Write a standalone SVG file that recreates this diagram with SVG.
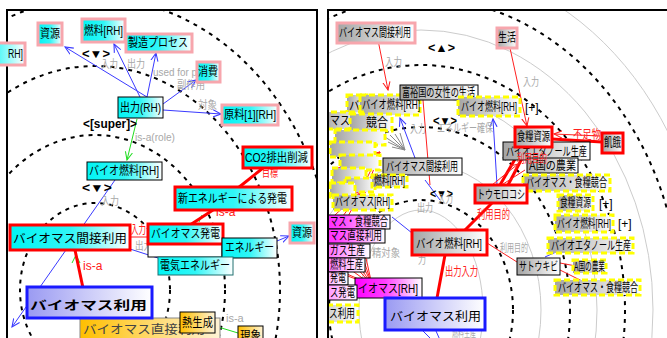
<svg xmlns="http://www.w3.org/2000/svg" width="667" height="338" viewBox="0 0 667 338">
<style>
.t{font-family:'Liberation Sans','Noto Sans CJK JP',sans-serif;font-size:12px;fill:#000}
.l{font-family:'Liberation Sans','Noto Sans CJK JP',sans-serif;font-size:11px;fill:#a8a8a8}
.rt{fill:#ff2020}
.bd{font-weight:bold}
.pc{fill:url(#gc);stroke:#f7a6ad;stroke-width:3}
.pg{fill:url(#gg);stroke:#f7a6ad;stroke-width:3}
.rc{fill:url(#gc);stroke:#ff0000;stroke-width:3}
.rg{fill:url(#gg);stroke:#ff0000;stroke-width:3}
.kc{fill:url(#gc);stroke:#000;stroke-width:1}
.kg{fill:url(#gg);stroke:#000;stroke-width:1}
.yg{fill:url(#gg);stroke:#ffff00;stroke-width:3;stroke-dasharray:6 3}
.km{fill:url(#gm);stroke:#000;stroke-width:1}
.bl{stroke:#3a3aff;stroke-width:1;fill:none}
.gl{stroke:#22dd22;stroke-width:1;fill:none}
.rl{stroke:#ff0000;stroke-width:3;fill:none}
.rn{stroke:#ff2020;stroke-width:1;fill:none}
.dk{fill:none;stroke:#000;stroke-width:2;stroke-dasharray:4 5}
.gy{fill:none;stroke:#cccccc;stroke-width:1}
.fr{fill:none;stroke:#000;stroke-width:2}
</style>
<defs>
<linearGradient id="gc" x1="0" y1="0" x2="1" y2="0"><stop offset="0" stop-color="#00f4f4"/><stop offset="0.5" stop-color="#30f6f6"/><stop offset="1" stop-color="#ffffff"/></linearGradient>
<linearGradient id="gg" x1="0" y1="0" x2="1" y2="0"><stop offset="0" stop-color="#a4a4a4"/><stop offset="1" stop-color="#ffffff"/></linearGradient>
<linearGradient id="gl" x1="0" y1="0" x2="1" y2="0"><stop offset="0" stop-color="#9a9af2"/><stop offset="1" stop-color="#ffffff"/></linearGradient>
<linearGradient id="go" x1="0" y1="0" x2="1" y2="0"><stop offset="0" stop-color="#ffbf00"/><stop offset="1" stop-color="#fff3d6"/></linearGradient>
<linearGradient id="gm" x1="0" y1="0" x2="1" y2="0"><stop offset="0" stop-color="#ff00ff"/><stop offset="0.45" stop-color="#ff40ff"/><stop offset="1" stop-color="#ffffff"/></linearGradient>
<marker id="ab" viewBox="0 0 10 10" refX="9" refY="5" markerWidth="9" markerHeight="9" orient="auto" markerUnits="userSpaceOnUse"><path d="M0,1 L9,5 L0,9" fill="none" stroke="#3a3aff" stroke-width="1.2"/></marker>
<marker id="ag" viewBox="0 0 10 10" refX="9" refY="5" markerWidth="9" markerHeight="9" orient="auto" markerUnits="userSpaceOnUse"><path d="M0,1 L9,5 L0,9" fill="none" stroke="#22dd22" stroke-width="1.2"/></marker>
<marker id="ar" viewBox="0 0 10 10" refX="9" refY="5" markerWidth="9" markerHeight="9" orient="auto" markerUnits="userSpaceOnUse"><path d="M0,1 L9,5 L0,9" fill="none" stroke="#ff2020" stroke-width="1.2"/></marker>
<clipPath id="cL"><rect x="8" y="11" width="308" height="327"/></clipPath>
<clipPath id="cR"><rect x="329" y="11" width="338" height="327"/></clipPath>
</defs>
<rect x="0" y="0" width="667" height="338" fill="#fff"/>

<!-- LEFT PANEL -->
<g id="left-rings" clip-path="url(#cL)">
<ellipse class="dk" cx="95" cy="290" rx="75" ry="87"/>
<ellipse class="dk" cx="95" cy="290" rx="130" ry="155"/>
<ellipse class="dk" cx="95" cy="290" rx="185" ry="224"/>
<ellipse class="dk" cx="95" cy="290" rx="240" ry="292"/>
</g>
<g id="left-frame"><path class="fr" d="M7,340 V10 H317 V340"/></g>

<g id="left-connectors">
<line class="bl" x1="147" y1="97" x2="65" y2="47" marker-end="url(#ab)"/>
<line class="bl" x1="140" y1="97" x2="114" y2="44" marker-end="url(#ab)"/>
<line class="bl" x1="147" y1="97" x2="156" y2="53" marker-end="url(#ab)"/>
<line class="bl" x1="163" y1="104" x2="196" y2="80" marker-end="url(#ab)"/>
<line class="bl" x1="163" y1="110" x2="221" y2="114" marker-end="url(#ab)"/>
<line class="bl" x1="115" y1="180" x2="12" y2="327" marker-end="url(#ab)"/>
<line class="bl" x1="130" y1="249" x2="158" y2="258"/>
<line class="bl" x1="277" y1="241" x2="289" y2="236" marker-end="url(#ab)"/>
<line class="gl" x1="137" y1="119" x2="127" y2="160" marker-end="url(#ag)"/>
<line class="gl" x1="215" y1="326" x2="238" y2="333"/>
<path class="gl" d="M72,263 L76,255 L80,263"/>
<path class="gl" d="M199,222 L202,215"/>
<line class="rl" x1="263" y1="168" x2="238" y2="188"/>
<line class="rl" x1="213" y1="210" x2="190" y2="225"/>
<line class="rl" x1="75" y1="250" x2="83" y2="288"/>
<line class="rn" x1="130" y1="237" x2="148" y2="237" stroke-width="2"/>
</g>

<g id="left-labels">
<text class="t bd" x="82" y="58" font-size="14" textLength="28" lengthAdjust="spacingAndGlyphs">&lt;▼&gt;</text>
<text class="l" x="101" y="68" textLength="17" lengthAdjust="spacingAndGlyphs">入力</text>
<text class="l" x="127" y="68" textLength="18" lengthAdjust="spacingAndGlyphs">出力</text>
<text class="l" x="153" y="76" textLength="44" lengthAdjust="spacingAndGlyphs">used for p</text>
<text class="l" x="177" y="89" textLength="28" lengthAdjust="spacingAndGlyphs">副作用</text>
<text class="l" x="198" y="109" textLength="19" lengthAdjust="spacingAndGlyphs">対象</text>
<text class="t bd" x="83" y="128" font-size="14" textLength="54" lengthAdjust="spacingAndGlyphs">&lt;[super]&gt;</text>
<text class="l" x="135" y="141" textLength="40" lengthAdjust="spacingAndGlyphs">is-a(role)</text>
<text class="t bd" x="82" y="192" font-size="14" textLength="30" lengthAdjust="spacingAndGlyphs">&lt;▼&gt;</text>
<text class="l" x="101" y="205" textLength="18" lengthAdjust="spacingAndGlyphs">入力</text>
<text class="t rt" x="262" y="177" font-size="10" textLength="16" lengthAdjust="spacingAndGlyphs">目標</text>
<text class="t rt" x="216" y="216" font-size="9">is-a</text>
<text class="t rt" x="131" y="234" font-size="9" textLength="15" lengthAdjust="spacingAndGlyphs">入力</text>
<text class="l" x="135" y="250" font-size="10" textLength="17" lengthAdjust="spacingAndGlyphs">出力</text>
<text class="t rt" x="83" y="270" font-size="11">is-a</text>
<text class="l" x="226" y="322" font-size="10">is-a</text>
</g>

<g id="L-rh"><rect class="pc" x="-40" y="43" width="65" height="22"/><text class="t" x="8" y="58" textLength="15" lengthAdjust="spacingAndGlyphs">RH]</text></g>
<g id="L-shigen1"><rect class="pc" x="38" y="23" width="24" height="22"/><text class="t" x="40" y="38" textLength="20" lengthAdjust="spacingAndGlyphs">資源</text></g>
<g id="L-nenryo"><rect class="pc" x="82" y="19" width="43" height="23"/><text class="t" x="84" y="35" textLength="39" lengthAdjust="spacingAndGlyphs">燃料[RH]</text></g>
<g id="L-seizo"><rect class="pc" x="126" y="34" width="66" height="18"/><text class="t" x="128" y="47" textLength="60" lengthAdjust="spacingAndGlyphs">製造プロセス</text></g>
<g id="L-shohi"><rect class="pc" x="197" y="62" width="23" height="20"/><text class="t" x="198" y="76" textLength="20" lengthAdjust="spacingAndGlyphs">消費</text></g>
<g id="L-shutsuryoku"><rect class="kc" x="118" y="97" width="45" height="21"/><text class="t" x="120" y="112" textLength="41" lengthAdjust="spacingAndGlyphs">出力(RH)</text></g>
<g id="L-genryo"><rect class="pc" x="222" y="105" width="56" height="20"/><text class="t" x="224" y="119" textLength="52" lengthAdjust="spacingAndGlyphs">原料[1][RH]</text></g>
<g id="L-biofuel"><rect class="kc" x="87" y="162" width="75" height="18"/><text class="t" x="89" y="175" textLength="70" lengthAdjust="spacingAndGlyphs">バイオ燃料[RH]</text></g>
<g id="L-co2"><rect class="rc" x="243" y="147" width="69" height="21"/><text class="t" x="245" y="162" textLength="63" lengthAdjust="spacingAndGlyphs">CO2排出削減</text></g>
<g id="L-shinene"><rect class="rc" x="175" y="187" width="117" height="23"/><text class="t" x="178" y="203" textLength="109" lengthAdjust="spacingAndGlyphs">新エネルギーによる発電</text></g>
<g id="L-hidden"><rect x="148" y="244" width="74" height="13" fill="#fff" stroke="#000" stroke-width="1"/></g>
<g id="L-biohatsuden"><rect class="rc" x="148" y="224" width="75" height="20"/><text class="t" x="151" y="238" textLength="69" lengthAdjust="spacingAndGlyphs">バイオマス発電</text></g>
<g id="L-energy"><rect class="kc" x="222" y="238" width="55" height="20"/><text class="t" x="225" y="252" textLength="49" lengthAdjust="spacingAndGlyphs">エネルギー</text></g>
<g id="L-shigen2"><rect class="pc" x="290" y="223" width="24" height="20"/><text class="t" x="292" y="237" textLength="20" lengthAdjust="spacingAndGlyphs">資源</text></g>
<g id="L-denki"><rect x="158" y="257" width="75" height="18" fill="url(#gc)" stroke="#207070" stroke-width="1"/><text class="t" x="160" y="270" textLength="70" lengthAdjust="spacingAndGlyphs">電気エネルギー</text></g>
<g id="L-kansetsu"><rect class="rc" x="10" y="225" width="120" height="25"/><text class="t" x="13" y="243" font-size="15" textLength="114" lengthAdjust="spacingAndGlyphs">バイオマス間接利用</text></g>
<g id="L-chokusetsu"><rect x="80" y="318" width="140" height="30" fill="url(#go)" stroke="#888" stroke-width="1"/><text class="t" x="83" y="334" font-size="15" style="fill:#444" textLength="122" lengthAdjust="spacingAndGlyphs">バイオマス直接利用</text></g>
<g id="L-riyo"><rect x="27" y="287" width="125" height="31" fill="url(#gl)" stroke="#1a1aff" stroke-width="3"/><text class="t bd" x="30" y="310" font-size="19" textLength="117" lengthAdjust="spacingAndGlyphs">バイオマス利用</text></g>
<g id="L-netsu"><rect x="180" y="312" width="35" height="21" fill="url(#go)" stroke="#000" stroke-width="1"/><text class="t" x="182" y="327" textLength="31" lengthAdjust="spacingAndGlyphs">熱生成</text></g>
<g id="L-gensho"><rect x="238" y="326" width="25" height="20" fill="url(#go)" stroke="#000" stroke-width="1"/><text class="t" x="240" y="340" textLength="21" lengthAdjust="spacingAndGlyphs">現象</text></g>

<!-- RIGHT PANEL -->
<g id="right-rings" clip-path="url(#cR)">
<ellipse class="gy" cx="421" cy="310" rx="62" ry="100"/>
<ellipse class="gy" cx="421" cy="310" rx="120" ry="147"/>
<ellipse class="gy" cx="421" cy="310" rx="176" ry="214"/>
<ellipse class="gy" cx="421" cy="310" rx="232" ry="280"/>
<ellipse class="gy" cx="421" cy="310" rx="288" ry="346"/>
<ellipse class="dk" cx="421" cy="310" rx="92" ry="110"/>
<ellipse class="dk" cx="421" cy="310" rx="149" ry="183"/>
<ellipse class="dk" cx="421" cy="310" rx="204" ry="245"/>
<ellipse class="dk" cx="421" cy="310" rx="260" ry="312"/>
</g>
<g id="right-frame"><path class="fr" d="M328,340 V10 H667"/></g>

<g id="right-connectors" clip-path="url(#cR)">
<line class="rn" x1="378" y1="40" x2="388" y2="90" marker-end="url(#ar)"/>
<line class="rn" x1="510" y1="48" x2="527" y2="126" marker-end="url(#ar)"/>
<line class="rn" x1="423" y1="100" x2="430" y2="185"/>
<line class="bl" x1="415" y1="158" x2="400" y2="118" marker-end="url(#ab)"/>
<line class="bl" x1="497" y1="185" x2="493" y2="119" marker-end="url(#ab)"/>
<line class="bl" x1="392" y1="217" x2="412" y2="233"/>
<line class="bl" x1="425" y1="180" x2="440" y2="200"/>
<line class="bl" x1="422" y1="330" x2="432" y2="340"/>
<line class="bl" x1="436" y1="331" x2="440" y2="340"/>
<line class="bl" x1="545" y1="257" x2="556" y2="252"/>
<line class="rl" x1="500" y1="185" x2="522" y2="147"/>
<line class="rl" x1="508" y1="185" x2="528" y2="147"/>
<line class="rl" x1="602" y1="142" x2="552" y2="139"/>
<line class="rn" x1="600" y1="136" x2="554" y2="134" marker-end="url(#ar)"/>
<line class="rn" x1="492" y1="185" x2="518" y2="164" marker-end="url(#ar)"/>
<line class="rn" x1="500" y1="186" x2="525" y2="170"/>
<line class="rl" x1="492" y1="203" x2="465" y2="230"/>
<line class="rl" x1="445" y1="255" x2="437" y2="298"/>
<line class="rn" x1="487" y1="243" x2="517" y2="262"/>
<line class="rn" x1="560" y1="263" x2="576" y2="266"/>
<line class="rn" x1="560" y1="270" x2="588" y2="284"/>
<g class="rn">
<path d="M380,152 L340,175 M380,152 L345,180 M380,152 L350,186 M380,152 L355,190 M380,152 L360,192 M380,152 L365,193 M380,152 L338,168 M380,152 L342,160"/>
<path d="M362,190 L335,215 M362,190 L340,220 M362,190 L333,205 M362,190 L345,222 M360,185 L350,175 M365,195 L352,200"/>
<path d="M372,285 L345,255 M372,285 L350,252 M372,285 L356,250 M372,285 L362,255 M372,285 L366,258 M372,285 L340,262 M372,285 L338,270 M372,285 L345,275"/>
</g>
<g stroke="#888" stroke-width="1" fill="none">
<path d="M405,150 L385,137 M405,150 L390,135 M405,150 L395,134 M405,150 L388,142 M405,150 L400,133 M405,150 L392,147"/>
</g>
</g>

<g id="right-labels">
<text class="t bd" x="428" y="52" font-size="14" textLength="27" lengthAdjust="spacingAndGlyphs">&lt;▲&gt;</text>
<text class="l" x="385" y="66" textLength="17" lengthAdjust="spacingAndGlyphs">入力</text>
<text class="l" x="523" y="86" textLength="16" lengthAdjust="spacingAndGlyphs">入力</text>
<text class="t bd" x="433" y="125" font-size="14" textLength="24" lengthAdjust="spacingAndGlyphs">&lt;▼&gt;</text>
<text class="l" x="437" y="132" textLength="56" lengthAdjust="spacingAndGlyphs">エネルギー確保</text>
<text class="l" x="410" y="133" textLength="16" lengthAdjust="spacingAndGlyphs">入力</text>
<text class="t rt" x="573" y="139" font-size="11" textLength="28" lengthAdjust="spacingAndGlyphs">不足物</text>
<text class="t bd" x="430" y="198" font-size="14" textLength="23" lengthAdjust="spacingAndGlyphs">&lt;▼&gt;</text>
<text class="l" x="438" y="203" textLength="15" lengthAdjust="spacingAndGlyphs">入力</text>
<text class="l" x="417" y="212" textLength="16" lengthAdjust="spacingAndGlyphs">出力</text>
<text class="l" x="358" y="184" textLength="10" lengthAdjust="spacingAndGlyphs">的</text>
<text class="l" x="372" y="257" textLength="28" lengthAdjust="spacingAndGlyphs">精対象</text>
<text class="l" x="418" y="264" textLength="8" lengthAdjust="spacingAndGlyphs">力</text>
<text class="l" x="452" y="337" textLength="24" lengthAdjust="spacingAndGlyphs">燃料生産</text>
<text class="t rt" x="445" y="276" font-size="11" textLength="33" lengthAdjust="spacingAndGlyphs">出力入力</text>
<text class="l" x="500" y="252" textLength="28" lengthAdjust="spacingAndGlyphs">利用目的</text>
</g>

<g id="R-kansetsu-top"><rect class="pg" x="337" y="23" width="78" height="20"/><text class="t" x="339" y="37" textLength="72" lengthAdjust="spacingAndGlyphs">バイオマス間接利用</text></g>
<g id="R-seikatsu"><rect class="pg" x="497" y="28" width="20" height="20"/><text class="t" x="498" y="42" font-size="11" textLength="18" lengthAdjust="spacingAndGlyphs">生活</text></g>
<g id="R-ba" clip-path="url(#cR)"><rect class="yg" x="347" y="95" width="20" height="22"/><text class="t" x="349" y="110" textLength="11" lengthAdjust="spacingAndGlyphs">バ</text></g>
<g id="R-biofuel-left"><rect class="yg" x="360" y="95" width="60" height="20"/><text class="t" x="362" y="109" textLength="58" lengthAdjust="spacingAndGlyphs">バイオ燃料[RH]</text></g>
<g id="R-fuyu"><rect class="kg" x="400" y="85" width="78" height="15"/><text class="t" x="402" y="97" font-size="11" textLength="73" lengthAdjust="spacingAndGlyphs">富裕国の女性の生活</text></g>
<g id="R-biofuel-y1"><rect class="yg" x="458" y="97" width="62" height="19"/><text class="t" x="461" y="111" textLength="56" lengthAdjust="spacingAndGlyphs">バイオ燃料[RH]</text><text class="t" x="525" y="112" font-size="10">[+]</text></g>
<g id="R-cluster" clip-path="url(#cR)">
<rect class="yg" x="322" y="112" width="42" height="17"/><text class="t" x="330" y="125" textLength="20" lengthAdjust="spacingAndGlyphs">マス</text>
<rect class="yg" x="350" y="114" width="42" height="17"/><text class="t" x="366" y="127" textLength="22" lengthAdjust="spacingAndGlyphs">競合</text>
<rect class="yg" x="335" y="130" width="50" height="15"/>
<rect class="yg" x="330" y="142" width="45" height="15"/>
<rect class="yg" x="340" y="155" width="40" height="15"/>
<rect class="yg" x="332" y="168" width="34" height="15"/>
<rect class="yg" x="345" y="178" width="30" height="14"/>
<rect class="yg" x="330" y="183" width="25" height="14"/>
</g>
<g id="R-kansetsu-mid"><rect class="kg" x="383" y="158" width="79" height="17"/><text class="t" x="386" y="171" textLength="72" lengthAdjust="spacingAndGlyphs">バイオマス間接利用</text></g>
<g id="R-nenryo-part"><rect class="yg" x="372" y="175" width="35" height="12"/><text class="t" x="374" y="185" font-size="11" textLength="31" lengthAdjust="spacingAndGlyphs">燃料[RH]</text></g>
<g id="R-bio-rh"><rect class="yg" x="333" y="195" width="59" height="15"/><text class="t" x="335" y="206" font-size="11" textLength="55" lengthAdjust="spacingAndGlyphs">バイオマス[RH]</text></g>
<g id="R-magenta" clip-path="url(#cR)">
<rect class="km" x="300" y="215" width="90" height="14"/><text class="t" x="330" y="226" font-size="11" textLength="58" lengthAdjust="spacingAndGlyphs">マス・食糧競合</text>
<rect class="km" x="300" y="229" width="85" height="14"/><text class="t" x="330" y="240" font-size="11" textLength="52" lengthAdjust="spacingAndGlyphs">マス直接利用</text>
<rect class="km" x="270" y="244" width="100" height="14"/><text class="t" x="330" y="255" font-size="11" textLength="35" lengthAdjust="spacingAndGlyphs">ガス生産</text>
<rect class="km" x="270" y="258" width="95" height="14"/><text class="t" x="330" y="269" font-size="11" textLength="33" lengthAdjust="spacingAndGlyphs">燃料生産</text>
<rect class="km" x="355" y="278" width="67" height="20"/><text class="t" x="358" y="293" textLength="60" lengthAdjust="spacingAndGlyphs">イオマス[RH]</text>
<rect class="km" x="260" y="272" width="88" height="13"/><text class="t" x="330" y="282" font-size="11" textLength="16" lengthAdjust="spacingAndGlyphs">発電</text>
<rect class="km" x="260" y="285" width="97" height="15"/><text class="t" x="330" y="297" font-size="11" textLength="25" lengthAdjust="spacingAndGlyphs">ス発電</text>
<rect class="yg" x="300" y="305" width="58" height="17"/><text class="t" x="329" y="318" font-size="11" textLength="26" lengthAdjust="spacingAndGlyphs">ス利用</text>
</g>
<g id="R-ethanol"><rect class="kg" x="503" y="142" width="87" height="18"/><text class="t" x="506" y="156" textLength="81" lengthAdjust="spacingAndGlyphs">バイオエタノール生産</text></g>
<g id="R-shokuryo"><rect class="rg" x="515" y="127" width="37" height="20"/><text class="t" x="517" y="141" font-size="11" textLength="33" lengthAdjust="spacingAndGlyphs">食糧資源</text></g>
<g id="R-kiga"><rect class="rg" x="602" y="133" width="21" height="20"/><text class="t" x="604" y="147" font-size="11" textLength="17" lengthAdjust="spacingAndGlyphs">飢餓</text></g>
<g id="R-akoku"><rect class="kg" x="527" y="158" width="51" height="15"/><text class="t" x="529" y="170" font-size="11" textLength="47" lengthAdjust="spacingAndGlyphs">A国の農業</text></g>
<g id="R-label-mokuteki"><text class="t rt" x="517" y="163" font-size="11" textLength="30" lengthAdjust="spacingAndGlyphs">利用目的</text></g>
<g id="R-compete-y1"><rect class="yg" x="523" y="175" width="87" height="16"/><text class="t" x="526" y="187" font-size="11" textLength="81" lengthAdjust="spacingAndGlyphs">バイオマス・食糧競合</text></g>
<g id="R-shokuryo-y"><rect class="yg" x="558" y="195" width="35" height="16"/><text class="t" x="560" y="207" font-size="11" textLength="31" lengthAdjust="spacingAndGlyphs">食糧資源</text><text class="t" x="599" y="208" font-size="10">[+]</text></g>
<g id="R-toumorokoshi"><rect class="rg" x="475" y="185" width="52" height="18"/><text class="t" x="477" y="199" textLength="48" lengthAdjust="spacingAndGlyphs">トウモロコシ</text></g>
<g id="R-label-mokuteki2"><text class="t rt" x="477" y="219" font-size="11" textLength="33" lengthAdjust="spacingAndGlyphs">利用目的</text></g>
<g id="R-biofuel-main"><rect class="rg" x="412" y="230" width="75" height="25"/><text class="t" x="416" y="248" font-size="14" textLength="66" lengthAdjust="spacingAndGlyphs">バイオ燃料[RH]</text></g>
<g id="R-riyo"><rect x="385" y="298" width="100" height="32" fill="url(#gl)" stroke="#1a1aff" stroke-width="3"/><text class="t" x="390" y="321" font-size="19" textLength="91" lengthAdjust="spacingAndGlyphs">バイオマス利用</text></g>
<g id="R-satou"><rect class="kg" x="517" y="258" width="43" height="17"/><text class="t" x="519" y="271" textLength="39" lengthAdjust="spacingAndGlyphs">サトウキビ</text></g>
<g id="R-biofuel-y2"><rect class="yg" x="555" y="215" width="58" height="17"/><text class="t" x="557" y="228" font-size="11" textLength="54" lengthAdjust="spacingAndGlyphs">バイオ燃料[RH]</text><text class="t" x="618" y="228" font-size="10">[+]</text></g>
<g id="R-ethanol-y"><rect class="yg" x="548" y="238" width="85" height="15"/><text class="t" x="551" y="250" font-size="11" textLength="80" lengthAdjust="spacingAndGlyphs">バイオエタノール生産</text></g>
<g id="R-akoku-y"><rect class="yg" x="573" y="260" width="33" height="13"/><text class="t" x="574" y="271" font-size="10" textLength="31" lengthAdjust="spacingAndGlyphs">A国の農業</text></g>
<g id="R-compete-y2"><rect class="yg" x="555" y="280" width="85" height="15"/><text class="t" x="558" y="292" font-size="11" textLength="80" lengthAdjust="spacingAndGlyphs">バイオマス・食糧競合</text></g>
</svg>
